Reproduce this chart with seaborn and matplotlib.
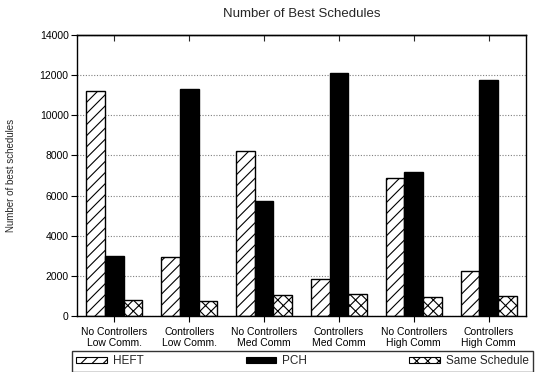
import matplotlib
matplotlib.use("Agg")
import matplotlib.pyplot as plt
import matplotlib.patches as mpatches
import seaborn as sns
import pandas as pd

categories = [
    "No Controllers\nLow Comm.",
    "Controllers\nLow Comm.",
    "No Controllers\nMed Comm",
    "Controllers\nMed Comm",
    "No Controllers\nHigh Comm",
    "Controllers\nHigh Comm",
]
series = ["HEFT", "PCH", "Same Schedule"]
heft = [11200, 2950, 8200, 1850, 6900, 2250]
pch = [3000, 11300, 5750, 12100, 7150, 11750]
same = [800, 750, 1050, 1100, 950, 1000]
yticks = [0, 2000, 4000, 6000, 8000, 10000, 12000, 14000]

fills = {"HEFT": "white", "PCH": "black", "Same Schedule": "white"}
hatches = {"HEFT": "///", "PCH": "", "Same Schedule": "xxx"}

df = pd.DataFrame({
    "Category": categories * 3,
    "Series": [s for s in series for _ in categories],
    "Count": heft + pch + same,
})

sns.set_style("white")
plt.rcParams["font.family"] = ["Liberation Sans", "DejaVu Sans"]
plt.rcParams["hatch.linewidth"] = 0.8
plt.rcParams["hatch.color"] = "black"

fig = plt.figure(figsize=(5.38, 3.72), dpi=100)
ax = fig.add_axes([77 / 538, 1 - 316 / 372, 449 / 538, 281 / 372])

sns.barplot(data=df, x="Category", y="Count", hue="Series", order=categories,
            hue_order=series, palette=fills, edgecolor="black", linewidth=1.0,
            width=0.75, gap=0, saturation=1, legend=False, ax=ax)

for container, name in zip(ax.containers, series):
    for bar in container:
        bar.set_hatch(hatches[name])

ax.set_xlim(-0.5, len(categories) - 0.5)
ax.set_ylim(0, 14000)
ax.set_yticks(yticks)
ax.set_yticklabels([str(v) for v in yticks], fontsize=7.5)
ax.set_xticks(range(len(categories)))
ax.set_xticklabels(categories, fontsize=7.5, linespacing=1.1)
ax.set_xlabel("")
ax.set_ylabel("Number of best schedules", fontsize=7, labelpad=17)
ax.set_title("Number of Best Schedules", fontsize=9.5, pad=13)

ax.set_axisbelow(True)
ax.yaxis.grid(True, linestyle=(0, (1, 1.5)), color="#808080", linewidth=0.8)
ax.xaxis.grid(False)

for sp in ax.spines.values():
    sp.set_visible(True)
    sp.set_color("black")
    sp.set_linewidth(1.0)

ax.tick_params(axis="y", direction="out", length=4, width=0.8, left=True,
               colors="black", pad=2)
ax.tick_params(axis="x", direction="out", length=4, width=0.8, bottom=True,
               colors="black", pad=4)

top = ax.secondary_xaxis("top")
top.set_xticks(range(len(categories)))
top.tick_params(axis="x", direction="in", length=4, width=0.8, labeltop=False)
top.spines["top"].set_linewidth(1.0)

handles = [mpatches.Patch(facecolor=fills[s], edgecolor="black", hatch=hatches[s],
                          linewidth=0.8, label=s) for s in series]
leg = fig.legend(handles=handles, loc="lower left", ncol=3, mode="expand",
                 bbox_to_anchor=(72 / 538, 0.5 / 372, 461 / 538, 21 / 372),
                 fontsize=8.5, frameon=True, fancybox=False, shadow=False,
                 handlelength=2.6, handleheight=0.45, handletextpad=0.5,
                 borderaxespad=0, borderpad=0.35, columnspacing=1.0)
leg.get_frame().set_edgecolor("black")
leg.get_frame().set_linewidth(1.0)

fig.savefig("out.png", dpi=100)
